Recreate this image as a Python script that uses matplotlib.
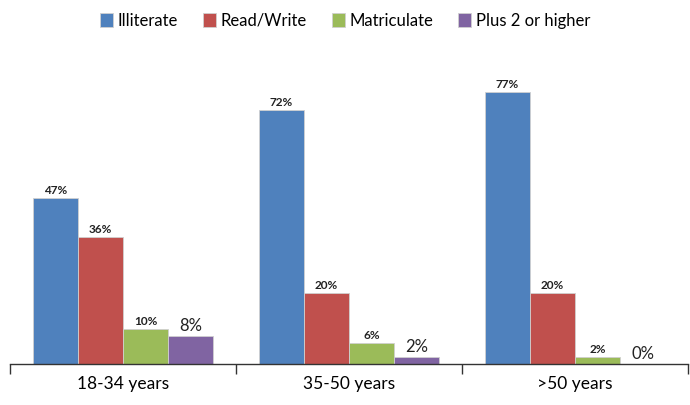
import numpy as np
import matplotlib.pyplot as plt

plt.rcParams['font.family'] = ['Lato', 'DejaVu Sans']

age_groups = ["18-34 years", "35-50 years", ">50 years"]
levels = ["Illiterate", "Read/Write", "Matriculate", "Plus 2 or higher"]
illiterate = [47, 72, 77]
read_write = [36, 20, 20]
matriculate = [10, 6, 2]
plus_two = [8, 2, 0]
colors = ["#4F81BD", "#C0504D", "#9BBB59", "#8064A2"]

series = [illiterate, read_write, matriculate, plus_two]

fig = plt.figure(figsize=(6.9, 4.05), dpi=100)
ax = fig.add_axes([10 / 690, 41 / 405, 678 / 690, 300 / 405])

x = np.arange(len(age_groups))
w = 0.2
for i, (vals, name, c) in enumerate(zip(series, levels, colors)):
    pos = x + (i - 1.5) * w
    bars = ax.bar(pos, vals, width=w, color=c, edgecolor="#d0d0d0",
                  linewidth=0.6, label=name)
    for b, v in zip(bars, vals):
        big = (i == 3)
        ax.text(b.get_x() + b.get_width() / 2, v + 0.6, f"{v}%",
                ha="center", va="bottom",
                fontsize=12 if big else 8.5,
                fontweight="normal" if big else "bold", color="#222222")

ax.set_xlim(-0.5, len(age_groups) - 0.5)
ax.set_ylim(0, 85)
ax.set_yticks([])
for s in ["top", "right", "left"]:
    ax.spines[s].set_visible(False)
ax.spines["bottom"].set_color("#333333")
ax.spines["bottom"].set_linewidth(1.0)

ax.set_xticks(x)
ax.set_xticklabels(age_groups, fontsize=12.5)
ax.tick_params(axis="x", which="major", length=0, pad=9)
ax.set_xticks(np.arange(-0.5, len(age_groups)), minor=True)
ax.tick_params(axis="x", which="minor", length=7, width=1.0, color="#333333")

# legend row across the top
fig.legend(loc="upper center", bbox_to_anchor=(0.5, 1.005), ncol=4, frameon=False,
           fontsize=12, handlelength=0.8, handleheight=0.9, handletextpad=0.25,
           columnspacing=1.5)

fig.savefig("out.png", dpi=100)
